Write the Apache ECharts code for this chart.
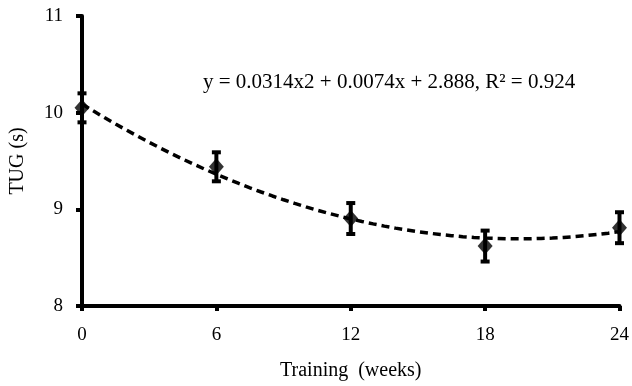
<!DOCTYPE html>
<html><head><meta charset="utf-8">
<script src="https://cdn.jsdelivr.net/npm/echarts@6/dist/echarts.min.js"></script>
<style>html,body{margin:0;padding:0;background:#fff}#c{width:632px;height:386px}</style>
</head><body><div id="c"></div>
<script>
var weeks = [0, 6, 12, 18, 24];
var tugMean = [10.05, 9.44, 8.905, 8.62, 8.81];
var tugErr = [0.15, 0.15, 0.16, 0.16, 0.16];
var xTicks = [0, 6, 12, 18, 24];
var yTicks = [8, 9, 10, 11];
var equationText = 'y = 0.0314x2 + 0.0074x + 2.888, R\u00b2 = 0.924';

// quadratic least-squares trendline fitted to the data points
function fitQuad(xs, ys) {
  var n = xs.length, S = [0,0,0,0,0], T = [0,0,0];
  for (var i = 0; i < n; i++) {
    var p = 1;
    for (var k = 0; k < 5; k++) { S[k] += p; if (k < 3) T[k] += p * ys[i]; p *= xs[i]; }
  }
  var A = [[S[0],S[1],S[2],T[0]],[S[1],S[2],S[3],T[1]],[S[2],S[3],S[4],T[2]]];
  for (var c = 0; c < 3; c++) {
    for (var r = c + 1; r < 3; r++) {
      var f = A[r][c] / A[c][c];
      for (var j = c; j < 4; j++) A[r][j] -= f * A[c][j];
    }
  }
  var x = [0,0,0];
  for (var r2 = 2; r2 >= 0; r2--) {
    var s = A[r2][3];
    for (var j2 = r2 + 1; j2 < 3; j2++) s -= A[r2][j2] * x[j2];
    x[r2] = s / A[r2][r2];
  }
  return x;
}
var coef = fitQuad(weeks, tugMean);
var trend = [];
for (var t = 0; t <= 24; t += 0.5) trend.push([t, coef[0] + coef[1]*t + coef[2]*t*t]);

var font = 'Liberation Serif';
var chart = echarts.init(document.getElementById('c'));
chart.setOption({
  animation: false,
  textStyle: {fontFamily: font, color: '#000'},
  grid: {left: 81, right: 11, top: 16, bottom: 77},
  xAxis: {
    type: 'value', min: 0, max: 24, interval: 6,
    name: 'Training  (weeks)', nameLocation: 'middle', nameGap: 55,
    nameTextStyle: {fontFamily: font, fontSize: 20, color: '#000'},
    axisLine: {lineStyle: {color: '#000', width: 4}},
    axisTick: {show: true, length: 5, lineStyle: {color: '#000', width: 4}},
    axisLabel: {fontFamily: font, fontSize: 19, color: '#000', margin: 20,
      formatter: function(v){ return xTicks.indexOf(v) >= 0 ? String(v) : ''; }},
    splitLine: {show: false}
  },
  yAxis: {
    type: 'value', min: 8, max: 11, interval: 1,
    name: 'TUG (s)', nameLocation: 'middle', nameGap: 54,
    nameTextStyle: {fontFamily: font, fontSize: 20, color: '#000'},
    axisLine: {show: true, lineStyle: {color: '#000', width: 4}},
    axisTick: {show: true, length: 6, lineStyle: {color: '#000', width: 4}},
    axisLabel: {fontFamily: font, fontSize: 19, color: '#000', margin: 19,
      formatter: function(v){ return yTicks.indexOf(v) >= 0 ? String(v) : ''; }},
    splitLine: {show: false}
  },
  graphic: [{
    type: 'text', left: 203, top: 72,
    style: {text: equationText, font: '21px "Liberation Serif"', fill: '#000'}
  }],
  series: [
    {
      type: 'line', data: trend, showSymbol: false, smooth: false, z: 2,
      lineStyle: {color: '#000', width: 3.5, type: [8, 5]}
    },
    {
      type: 'custom', z: 3,
      data: weeks.map(function(w, i){ return [w, tugMean[i] - tugErr[i], tugMean[i] + tugErr[i]]; }),
      renderItem: function(params, api) {
        var lo = api.coord([api.value(0), api.value(1)]);
        var hi = api.coord([api.value(0), api.value(2)]);
        var hw = 4.5;
        var st = {stroke: '#000', lineWidth: 4};
        return {type: 'group', children: [
          {type: 'line', shape: {x1: lo[0], y1: lo[1], x2: hi[0], y2: hi[1]}, style: st},
          {type: 'line', shape: {x1: lo[0]-hw, y1: lo[1], x2: lo[0]+hw, y2: lo[1]}, style: st},
          {type: 'line', shape: {x1: hi[0]-hw, y1: hi[1], x2: hi[0]+hw, y2: hi[1]}, style: st}
        ]};
      }
    },
    {
      type: 'scatter', z: 4, symbol: 'diamond', symbolSize: [15, 17],
      itemStyle: {color: '#000'},
      data: weeks.map(function(w, i){ return [w, tugMean[i]]; })
    }
  ]
});
</script></body></html>
